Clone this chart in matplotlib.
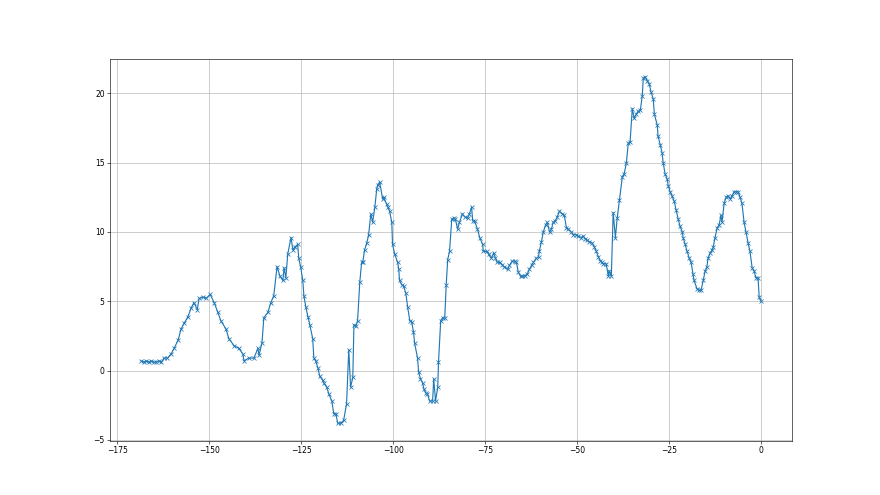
"""
curba cu markeri x
"""

import numpy as np
import matplotlib
matplotlib.use('Agg')
import matplotlib.pyplot as plt

# valori
x_vals = [
    -168.6, -167.9, -167.2, -166.5, -165.9, -165.2, -164.5, -163.8, -163.1, -162.3,
    -161.4, -160.4, -159.6, -158.5, -157.7, -156.9, -155.8, -155.0, -154.2, -153.3,
    -152.8, -151.7, -150.9, -149.8, -148.7, -147.7, -146.9, -145.5, -144.7, -143.3,
    -142.0, -140.9, -140.6, -139.3, -137.9, -136.8, -136.5, -135.7, -135.2, -134.1,
    -133.3, -132.5, -131.6, -130.8, -130.0, -129.7, -129.2, -128.7, -127.8, -127.3,
    -126.8, -126.0, -125.7, -125.2, -124.6, -124.3, -123.8, -123.2, -122.7, -121.9,
    -121.6, -121.1, -120.5, -120.0, -119.2, -118.9, -118.1, -117.5, -116.7, -116.2,
    -115.6, -115.1, -114.3, -113.5, -112.7, -112.1, -111.6, -111.0, -110.7, -110.2,
    -109.7, -109.1, -108.6, -108.3, -107.8, -107.2, -106.7, -106.1, -105.6, -105.0,
    -104.5, -104.2, -103.7, -102.9, -102.6, -101.8, -101.5, -101.0, -100.4, -100.2,
    -99.6, -98.8, -98.5, -98.3, -97.7, -97.2, -96.6, -96.1, -95.5, -95.0,
    -94.5, -94.2, -93.4, -93.1, -92.6, -92.0, -91.7, -91.2, -90.7, -90.1,
    -89.3, -89.0, -88.5, -87.9, -87.7, -87.1, -86.6, -86.0, -85.6, -85.2,
    -84.7, -84.1, -83.6, -83.1, -82.5, -82.0, -81.2, -80.6, -79.8, -79.3,
    -78.7, -78.4, -77.9, -77.1, -76.5, -75.7, -75.5, -74.6, -74.1, -73.3,
    -72.7, -72.2, -71.7, -71.1, -70.3, -69.8, -68.9, -68.4, -67.6, -67.0,
    -66.5, -66.0, -65.4, -64.9, -64.3, -63.5, -63.0, -62.4, -61.9, -61.1,
    -60.5, -60.3, -59.7, -59.2, -58.6, -58.1, -57.5, -57.0, -56.5, -55.9,
    -55.4, -54.8, -54.0, -53.5, -52.9, -52.4, -51.6, -51.0, -50.2, -49.7,
    -48.9, -48.3, -47.8, -47.2, -46.7, -45.9, -45.3, -44.8, -44.2, -43.7,
    -43.2, -42.9, -42.1, -41.5, -41.3, -40.7, -40.2, -39.6, -39.1, -38.5,
    -37.7, -37.2, -36.6, -36.1, -35.6, -35.0, -34.5, -33.9, -33.4, -32.8,
    -32.3, -32.0, -31.5, -30.9, -30.4, -29.9, -29.3, -29.0, -28.2, -28.0,
    -27.4, -26.9, -26.6, -26.1, -25.5, -25.2, -24.7, -24.2, -23.6, -23.1,
    -22.5, -22.0, -21.4, -21.2, -20.6, -20.1, -19.5, -19.0, -18.5, -18.2,
    -17.4, -16.8, -16.3, -15.7, -15.2, -14.7, -14.4, -13.8, -13.3, -13.0,
    -12.5, -11.9, -11.4, -10.9, -10.6, -10.0, -9.5, -9.0, -8.4, -7.9,
    -7.3, -6.8, -6.2, -5.7, -5.2, -4.6, -4.1, -3.5, -3.0, -2.4,
    -1.9, -1.4, -0.8, -0.5, 0.0,
]

y_vals = [
    0.7, 0.6, 0.7, 0.6, 0.7, 0.6, 0.6, 0.7, 0.6, 0.9,
    0.9, 1.2, 1.6, 2.2, 3.0, 3.4, 3.9, 4.5, 4.9, 4.4,
    5.2, 5.3, 5.2, 5.5, 4.9, 4.2, 3.6, 3.0, 2.3, 1.8,
    1.6, 1.2, 0.7, 0.9, 0.9, 1.6, 1.1, 2.0, 3.8, 4.2,
    4.9, 5.4, 7.5, 6.8, 6.5, 7.4, 6.7, 8.4, 9.6, 8.7,
    8.9, 9.1, 8.1, 7.5, 6.5, 5.4, 4.6, 3.9, 3.3, 2.3,
    0.9, 0.7, 0.2, -0.4, -0.7, -0.9, -1.2, -1.7, -2.2, -3.1,
    -3.1, -3.8, -3.8, -3.6, -2.4, 1.5, -1.2, -0.5, 3.3, 3.2,
    3.6, 6.4, 7.8, 7.8, 8.7, 9.2, 9.8, 11.3, 10.7, 11.8,
    13.1, 13.4, 13.6, 12.4, 12.5, 12.0, 11.8, 11.5, 10.7, 9.1,
    8.4, 7.8, 7.3, 6.5, 6.2, 6.1, 5.6, 4.6, 3.6, 3.5,
    2.8, 2.0, 0.9, -0.1, -0.6, -0.9, -1.3, -1.6, -1.7, -2.2,
    -2.2, -0.6, -2.2, -1.2, 0.6, 3.6, 3.8, 3.8, 6.2, 8.0,
    8.6, 10.9, 11.0, 10.9, 10.2, 10.7, 11.3, 11.1, 11.0, 11.3,
    11.8, 10.8, 10.8, 10.2, 9.6, 9.1, 8.6, 8.6, 8.4, 8.1,
    8.5, 8.1, 7.8, 7.8, 7.6, 7.5, 7.3, 7.6, 7.9, 7.9,
    7.8, 7.1, 6.8, 6.8, 6.8, 7.0, 7.3, 7.6, 7.8, 8.1,
    8.2, 8.6, 9.3, 10.0, 10.5, 10.7, 10.0, 10.2, 10.7, 10.8,
    11.1, 11.5, 11.3, 11.2, 10.3, 10.2, 10.0, 9.8, 9.8, 9.7,
    9.6, 9.7, 9.5, 9.4, 9.3, 9.2, 8.9, 8.6, 8.2, 7.9,
    7.8, 7.7, 7.7, 6.8, 7.2, 6.8, 11.4, 9.6, 11.0, 12.3,
    14.0, 14.2, 15.0, 16.4, 16.5, 18.9, 18.2, 18.5, 18.7, 18.8,
    19.8, 21.1, 21.2, 20.9, 20.7, 20.1, 19.6, 18.5, 17.7, 16.9,
    16.3, 15.7, 15.0, 14.2, 13.8, 13.3, 12.9, 12.6, 12.2, 11.6,
    10.9, 10.4, 10.0, 9.6, 9.1, 8.6, 8.1, 7.8, 7.0, 6.5,
    5.9, 5.8, 5.8, 6.5, 7.2, 7.5, 8.1, 8.5, 8.7, 8.9,
    9.6, 10.3, 10.5, 11.2, 10.7, 12.1, 12.5, 12.6, 12.4, 12.6,
    12.9, 12.9, 12.9, 12.5, 12.1, 10.7, 10.0, 9.2, 8.6, 7.4,
    7.2, 6.7, 6.7, 5.3, 5.0,
]

x = np.array(x_vals)
y = np.array(y_vals)

fig = plt.figure(figsize=(16, 9), dpi=55)
ax = fig.add_subplot(111)

ax.plot(x, y, marker='x', color='#1f77b4')
ax.grid(True)

fig.savefig('out.png', dpi=55)
